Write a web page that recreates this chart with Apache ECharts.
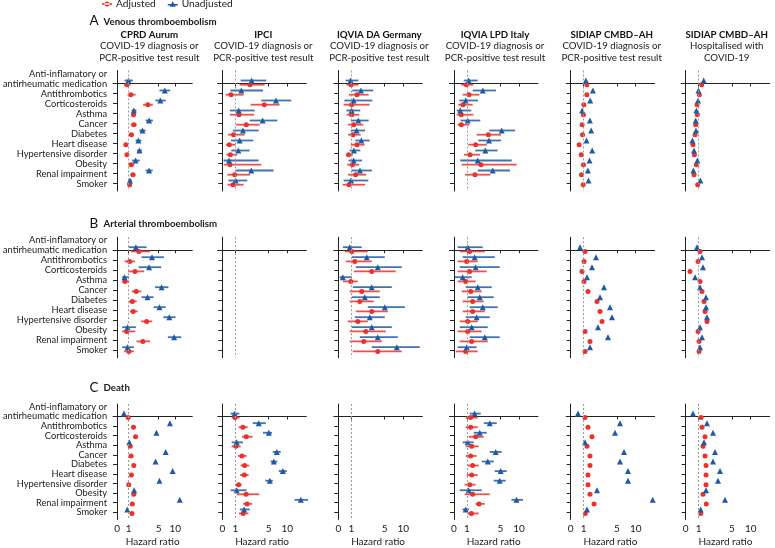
<!DOCTYPE html>
<html><head><meta charset="utf-8">
<script src="https://cdn.jsdelivr.net/npm/echarts@6/dist/echarts.min.js"></script>
<style>html,body{margin:0;padding:0;background:#fff}#c{width:775px;height:548px}</style>
</head><body><div id="c"></div>
<script>
const categories = ['antirheumatic medication','Antithrombotics','Corticosteroids','Asthma','Cancer','Diabetes','Heart disease','Hypertensive disorder','Obesity','Renal impairment','Smoker'];
const categoryPrefix = 'Anti-inflamatory or';
const outcomeLetters = ['A','B','C'];
const outcomes = ['Venous thromboembolism','Arterial thromboembolism','Death'];
const sources = ['CPRD Aurum','IPCI','IQVIA DA Germany','IQVIA LPD Italy','SIDIAP CMBD–AH','SIDIAP CMBD–AH'];
const populations = [
  ['COVID-19 diagnosis or','PCR-positive test result'],
  ['COVID-19 diagnosis or','PCR-positive test result'],
  ['COVID-19 diagnosis or','PCR-positive test result'],
  ['COVID-19 diagnosis or','PCR-positive test result'],
  ['COVID-19 diagnosis or','PCR-positive test result'],
  ['Hospitalised with','COVID-19']
];
const xTicks = [0, 1, 5, 10];
const seriesNames = ['Adjusted', 'Unadjusted'];

// [hazard ratio, lower 95% CI, upper 95% CI] per category; null = not reported
const vte_cprd_adj = [[0.85,0.59,1.24],[1.28,0.90,1.92],[3.56,2.92,4.24],[1.64,1.36,1.96],[1.68,1.28,2.08],[1.36,1.08,1.64],[0.75,0.62,0.92],[0.85,0.75,1.00],[1.32,1.00,1.76],[1.56,1.24,1.92],[1.12,0.92,1.32]];
const vte_cprd_unadj = [[0.98,0.64,1.56],[6.87,5.27,8.48],[5.53,4.57,7.14],[1.68,1.40,2.04],[3.73,3.25,4.24],[2.84,2.44,3.28],[2.29,1.92,2.72],[2.44,2.12,2.77],[1.92,1.44,2.48],[3.73,3.25,4.21],[1.16,0.98,1.40]];
const vte_ipci_adj = [[2.77,1.52,4.52],[0.67,0.25,2.00],[4.48,2.84,7.94],[1.44,0.59,3.25],[2.32,1.12,3.92],[0.87,0.44,2.12],[0.54,0.28,1.04],[0.62,0.31,1.24],[0.59,0.10,4.12],[0.95,0.38,2.77],[0.82,0.41,2.00]];
const vte_ipci_unadj = [[2.96,1.64,4.72],[1.72,0.62,4.33],[6.98,4.12,11.07],[1.40,0.59,3.32],[4.28,2.72,7.33],[1.92,0.82,3.80],[1.52,0.67,3.16],[1.36,0.69,2.72],[0.52,0.10,3.80],[2.92,1.04,6.34],[1.04,0.48,2.44]];
const vte_da_adj = [[0.98,0.62,1.88],[1.68,0.82,3.08],[1.04,0.41,3.20],[1.04,0.64,1.96],[1.28,0.75,2.44],[1.20,0.75,2.12],[1.68,0.95,2.60],[0.79,0.62,1.20],[1.12,0.69,1.92],[1.52,0.75,2.80],[0.82,0.33,2.65]];
const vte_da_unadj = [[0.95,0.56,1.84],[2.16,1.12,3.64],[1.28,0.46,3.52],[1.04,0.62,2.08],[1.84,0.95,3.08],[1.64,0.95,2.65],[2.20,1.48,3.20],[1.32,0.87,2.08],[1.28,0.79,2.29],[2.04,1.04,3.49],[0.98,0.41,3.04]];
const vte_lpd_adj = [[0.95,0.56,1.76],[1.24,0.67,2.48],[0.69,0.33,1.68],[0.56,0.21,1.76],[0.56,0.28,1.28],[3.56,2.16,5.19],[2.04,1.16,3.37],[1.36,0.77,2.56],[2.68,0.59,9.39],[1.96,0.85,3.80],null];
const vte_lpd_unadj = [[1.20,0.75,2.29],[2.89,1.68,4.48],[0.90,0.41,2.32],[0.48,0.21,1.52],[1.08,0.52,2.60],[5.37,3.68,8.93],[3.64,2.36,5.19],[3.20,2.00,4.69],[2.29,0.48,8.05],[4.09,2.29,7.59],null];
const vte_sidiap_adj = [[1.38],[1.38],[1.02],[0.98],[0.88],[0.91],[0.65],[0.81],[0.98],[0.83],[0.96]];
const vte_sidiap_unadj = [[1.26],[2.10],[1.78],[0.88],[1.74],[1.90],[1.34],[2.02],[1.70],[1.50],[1.58]];
const vte_hosp_adj = [[1.36],[1.08],[0.87],[0.90],[0.77],[0.72],[0.56],[0.67],[0.82],[0.64],[0.92]];
const vte_hosp_unadj = [[1.60],[0.98],[0.95],[0.82],[0.77],[0.79],[0.52],[0.64],[0.90],[0.59],[1.20]];

const ate_cprd_adj = [[2.36,1.32,3.88],[1.12,0.64,1.84],[1.84,0.95,3.08],[0.67,0.46,1.08],[2.00,1.40,2.68],[1.48,1.04,2.08],[1.60,1.16,2.20],[3.40,2.65,4.16],[0.82,0.44,1.88],[2.89,2.04,3.85],[1.02,0.59,1.68]];
const ate_cprd_unadj = [[1.96,1.00,3.40],[4.12,2.72,6.60],[3.73,2.32,5.80],[0.64,0.44,1.04],[5.91,4.52,7.94],[3.52,2.72,4.33],[5.27,4.33,7.14],[8.21,6.44,10.08],[0.90,0.44,1.96],[9.65,7.78,11.79],[0.90,0.44,1.68]];
const ate_ipci_adj = [];
const ate_ipci_unadj = [];
const ate_da_adj = [[1.06,0.50,2.98],[1.42,0.58,3.46],[3.46,1.30,7.99],[0.96,0.35,1.78],[2.26,0.88,4.42],[2.02,0.88,3.70],[3.46,1.54,5.86],[1.78,0.73,2.98],[2.74,0.88,5.32],[2.50,0.88,4.66],[4.18,1.18,9.60]];
const ate_da_unadj = [[0.88,0.35,2.26],[2.86,1.06,5.05],[4.18,1.54,9.60],[0.35,0.10,1.06],[3.46,1.18,6.93],[2.62,1.06,4.42],[5.05,2.98,10.40],[3.22,1.42,5.05],[3.46,1.06,6.93],[4.18,2.02,8.53],[8.26,3.46,14.41]];
const ate_lpd_adj = [[1.32,0.44,3.13],[0.98,0.28,2.29],[1.32,0.28,3.37],[0.90,0.28,2.04],[1.44,0.59,2.77],[1.68,0.67,3.01],[1.68,0.67,3.13],[1.08,0.44,2.29],[1.08,0.28,2.77],[1.56,0.44,3.49],[0.90,0.13,2.29]];
const ate_lpd_unadj = [[1.08,0.28,2.89],[1.92,0.67,4.33],[2.04,0.44,4.93],[0.67,0.05,1.56],[2.29,0.90,3.97],[2.53,1.08,4.21],[2.89,1.32,4.69],[2.16,0.90,3.73],[1.56,0.44,3.49],[3.13,1.32,4.93],[0.98,0.28,2.16]];
const ate_sidiap_adj = [[1.16],[1.04],[0.87],[1.04],[1.52],[2.60],[2.96],[3.20],[1.16],[1.76],[1.16]];
const ate_sidiap_unadj = [[0.72],[2.48],[2.00],[1.40],[3.44],[2.96],[4.16],[4.40],[2.72],[3.92],[1.76]];
const ate_hosp_adj = [[1.16],[0.95],[0.33],[1.16],[1.40],[1.64],[1.76],[2.00],[0.95],[1.04],[1.04]];
const ate_hosp_unadj = [[0.87],[1.40],[1.52],[0.72],[1.16],[1.88],[1.88],[2.00],[1.16],[1.40],[1.16]];

const death_cprd_adj = [[0.95],[1.64],[1.92],[1.20],[1.32],[1.68],[1.36],[1.00],[1.68],[1.48],[1.44]];
const death_cprd_unadj = [[0.59],[8.40],[4.72],[1.08],[7.14],[4.60],[9.20],[5.27],[1.72],[11.34],[0.87]];
const death_ipci_adj = [[0.98,0.72,1.52],[1.92,1.40,2.48],[2.32,1.80,3.08],[1.08,0.72,1.64],[1.80,1.32,2.36],[2.12,1.64,2.68],[2.08,1.56,2.60],[1.40,1.08,1.76],[2.29,1.16,3.88],[2.42,1.94,3.02],[1.94,1.42,2.59]];
const death_ipci_unadj = [[0.95,0.64,1.48],[3.82,3.10,4.66],[5.05,4.33,5.91],[1.16,0.72,1.92],[7.19,6.12,8.26],[6.39,5.53,7.33],[8.80,7.73,9.87],[5.32,4.60,6.12],[1.16,0.64,2.36],[13.61,11.93,15.56],[2.06,1.54,2.74]];
const death_da_adj = [];
const death_da_unadj = [];
const death_lpd_adj = [[1.44,0.90,2.29],[1.44,0.90,2.29],[2.04,1.20,3.01],[1.56,0.90,2.41],[1.44,0.90,2.16],[1.68,1.08,2.41],[1.56,0.98,2.29],[1.32,0.82,2.04],[1.68,0.82,3.73],[2.44,2.04,3.13],[1.53,1.00,2.41]];
const death_lpd_unadj = [[1.92,1.32,2.65],[3.73,3.01,4.57],[2.53,1.80,3.37],[1.08,0.67,1.80],[4.45,3.73,5.37],[3.49,2.77,4.21],[5.11,4.33,6.71],[4.93,4.21,6.44],[1.20,0.44,2.77],[9.31,7.97,11.07],[0.90,0.65,1.24]];
const death_sidiap_adj = [[1.16],[1.52],[2.00],[1.40],[1.76],[1.76],[1.52],[1.52],[1.76],[2.24],[1.19]];
const death_sidiap_unadj = [[0.56],[5.80],[4.76],[1.16],[6.87],[5.80],[7.94],[7.94],[2.60],[14.55],[1.40]];
const death_hosp_adj = [[1.28],[1.40],[1.76],[1.52],[1.76],[1.88],[1.88],[1.88],[1.52],[1.91],[1.24]];
const death_hosp_unadj = [[0.56],[2.00],[2.72],[1.64],[2.96],[2.72],[3.56],[3.32],[1.88],[4.16],[1.24]];

const panels = [
  [[vte_cprd_adj, vte_cprd_unadj],[vte_ipci_adj, vte_ipci_unadj],[vte_da_adj, vte_da_unadj],[vte_lpd_adj, vte_lpd_unadj],[vte_sidiap_adj, vte_sidiap_unadj],[vte_hosp_adj, vte_hosp_unadj]],
  [[ate_cprd_adj, ate_cprd_unadj],[ate_ipci_adj, ate_ipci_unadj],[ate_da_adj, ate_da_unadj],[ate_lpd_adj, ate_lpd_unadj],[ate_sidiap_adj, ate_sidiap_unadj],[ate_hosp_adj, ate_hosp_unadj]],
  [[death_cprd_adj, death_cprd_unadj],[death_ipci_adj, death_ipci_unadj],[death_da_adj, death_da_unadj],[death_lpd_adj, death_lpd_unadj],[death_sidiap_adj, death_sidiap_unadj],[death_hosp_adj, death_hosp_unadj]]
];

// ---- styling / layout ----
const FONT = "Lato, 'Liberation Sans', sans-serif";
const FS = 9.7, FS_Y = 9.3;
const TXT = '#1a1a1a';
const RED = '#ee302b', BLUE = '#1f5aa6';
const colors = [RED, BLUE];
const symbols = ['circle', 'triangle'];
const symbolSizes = [5, 6];
const rowOffsets = [0.12, -0.3];
const colZero = [108.3, 222.3, 338.3, 454, 570.7, 685.7];
const rowTop = [70.5, 237.2, 404];
const headerY = [21, 223.5, 387.5];

// axis transform (hazard-ratio scale as drawn: 0,1,5,10 ticks)
const T = v => v <= 1 ? 13 * v : (v <= 5 ? 13 + (v - 1) * 8.325 : 46.3 + (v - 5) * 3.74);
const tickPos = xTicks.map(T);

const grids = [], xAxes = [], yAxes = [], series = [];
let gi = 0;
for (let r = 0; r < 3; r++) {
  for (let c = 0; c < 6; c++) {
    grids.push({left: colZero[c] - 4.5, top: rowTop[r], width: 88.5, height: 120.5});
    xAxes.push({
      gridIndex: gi, type: 'value', min: -4.5, max: 84,
      axisLine: {show: true, lineStyle: {color: '#222', width: 1}},
      axisTick: {show: true, customValues: tickPos, length: 3, lineStyle: {color: '#222'}},
      axisLabel: {show: r === 2, customValues: tickPos, margin: 4, fontFamily: FONT, fontSize: 10, color: TXT,
        showMinLabel: true, showMaxLabel: true, hideOverlap: false,
        formatter: v => { let best = 0; tickPos.forEach((p, k) => { if (Math.abs(p - v) < Math.abs(tickPos[best] - v)) best = k; }); return String(xTicks[best]); }},
      splitLine: {show: false},
      name: r === 2 ? 'Hazard ratio' : '', nameLocation: 'middle', nameGap: 17.5,
      nameTextStyle: {fontFamily: FONT, fontSize: 10, color: TXT}
    });
    yAxes.push({
      gridIndex: gi, type: 'value', inverse: true, min: -1.3, max: 10.75,
      axisLine: {show: true, lineStyle: {color: '#222', width: 1}},
      axisTick: {show: true, customValues: categories.map((_, i) => i), length: 4, lineStyle: {color: '#222'}},
      axisLabel: {show: c === 0, customValues: [-1].concat(categories.map((_, i) => i)), margin: 6,
        showMinLabel: true, showMaxLabel: true, hideOverlap: false,
        fontFamily: FONT, fontSize: FS_Y, lineHeight: 8.5, color: TXT,
        formatter: v => v < -0.5 ? categoryPrefix : categories[Math.round(v)]},
      splitLine: {show: false}
    });
    const pair = panels[r][c];
    let markAdded = false;
    for (let s = 0; s < 2; s++) {
      const arr = pair[s];
      const bars = [], pts = [];
      arr.forEach((d, i) => {
        if (!d) return;
        pts.push([T(d[0]), i + rowOffsets[s]]);
        if (d.length === 3) bars.push([T(d[1]), T(d[2]), i + rowOffsets[s]]);
      });
      series.push({
        type: 'custom', name: seriesNames[s], xAxisIndex: gi, yAxisIndex: gi, data: bars,
        encode: {x: [0, 1], y: 2}, silent: true, z: 2,
        renderItem: (params, api) => {
          const a = api.coord([api.value(0), api.value(2)]);
          const b = api.coord([api.value(1), api.value(2)]);
          return {type: 'line', shape: {x1: a[0], y1: a[1], x2: b[0], y2: b[1]},
            style: {stroke: colors[s], lineWidth: 1.8, opacity: 0.85}};
        }
      });
      const sc = {
        type: 'scatter', name: seriesNames[s], xAxisIndex: gi, yAxisIndex: gi, data: pts,
        symbol: symbols[s], symbolSize: symbolSizes[s], itemStyle: {color: colors[s], opacity: 1}, z: 3, silent: true
      };
      if (!markAdded) {
        sc.markLine = {silent: true, symbol: 'none', label: {show: false}, animation: false,
          lineStyle: {type: [2, 2], color: '#9a9a9a', width: 1}, data: [{xAxis: T(1)}]};
        markAdded = true;
      }
      series.push(sc);
    }
    gi++;
  }
}

const graphics = [];
for (let r = 0; r < 3; r++) {
  graphics.push({type: 'text', x: 89.5, y: headerY[r], style: {text: outcomeLetters[r], font: "13.5px " + FONT, fill: '#111', verticalAlign: 'middle'}});
  graphics.push({type: 'text', x: 103.5, y: headerY[r] + 0.5, style: {text: outcomes[r], font: "bold " + FS + "px " + FONT, fill: TXT, verticalAlign: 'middle'}});
}
for (let c = 0; c < 6; c++) {
  const cx = colZero[c] + 41;
  graphics.push({type: 'text', x: cx, y: 34.5, style: {text: sources[c], font: "bold " + FS + "px " + FONT, fill: '#111', align: 'center', verticalAlign: 'middle'}});
  graphics.push({type: 'text', x: cx, y: 46, style: {text: populations[c][0], font: FS + "px " + FONT, fill: TXT, align: 'center', verticalAlign: 'middle'}});
  graphics.push({type: 'text', x: cx, y: 57.5, style: {text: populations[c][1], font: FS + "px " + FONT, fill: TXT, align: 'center', verticalAlign: 'middle'}});
}

const chart = echarts.init(document.getElementById('c'), null, {renderer: 'canvas'});
chart.setOption({
  animation: false,
  textStyle: {fontFamily: FONT},
  legend: {
    left: 102, top: -1, padding: 0, itemGap: 12, itemWidth: 10, itemHeight: 7,
    textStyle: {fontFamily: FONT, fontSize: 10.2, color: TXT, padding: [0, 0, 0, -1]},
    data: [
      {name: 'Adjusted', icon: 'path://M0 3.2 L10 3.2 L10 4.8 L0 4.8 Z M2.5 4 A2.5 2.5 0 1 0 7.5 4 A2.5 2.5 0 1 0 2.5 4 Z', itemStyle: {color: RED}},
      {name: 'Unadjusted', icon: 'path://M0 3.6 L10 3.6 L10 5.0 L0 5.0 Z M5 0.8 L8 6.2 L2 6.2 Z', itemStyle: {color: BLUE}}
    ]
  },
  grid: grids, xAxis: xAxes, yAxis: yAxes, series: series, graphic: graphics
});
</script></body></html>
